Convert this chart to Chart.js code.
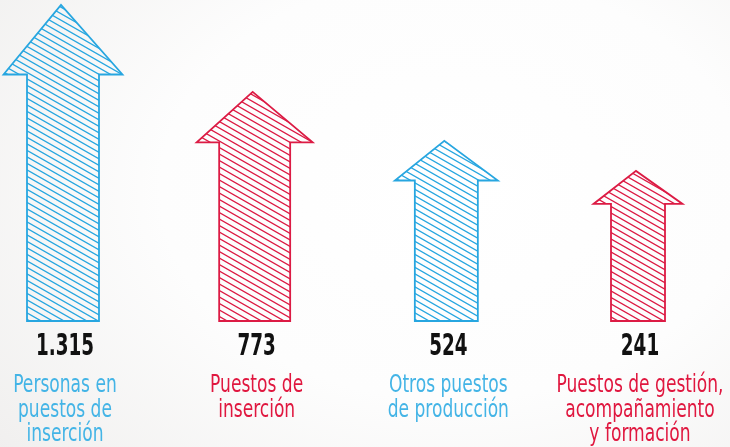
<!DOCTYPE html>
<html>
<head>
<meta charset="utf-8">
<script src="https://cdn.jsdelivr.net/npm/chart.js@4.4.1/dist/chart.umd.min.js"></script>
<style>
  html, body { margin: 0; padding: 0; }
  body {
    width: 730px; height: 447px; overflow: hidden;
    background: radial-gradient(ellipse 80% 95% at 62% 42%, #ffffff 0%, #fdfdfd 50%, #f0efee 100%);
  }
</style>
</head>
<body>
<canvas id="arrows" width="730" height="447"></canvas>
<script>
// etiquetas bajo cada flecha
const categories = [
  ["Personas en", "puestos de", "inserción"],
  ["Puestos de", "inserción"],
  ["Otros puestos", "de producción"],
  ["Puestos de gestión,", "acompañamiento", "y formación"]
];
// cifras que se muestran
const valueLabels = ["1.315", "773", "524", "241"];
// altura de cada flecha (la más alta = 100)
const arrowHeight = [100, 72.5, 57, 47.5];

// estilos
const BLUE = "#27a6e0";
const RED = "#dc1b44";
const arrowColors = [BLUE, RED, BLUE, RED];
const labelColors = ["#43b4e6", "#e0173f", "#43b4e6", "#e0173f"];
const shaftWidth = [72, 71, 63, 54];   // px
const headWidth = [119, 116, 103, 89]; // px
const COND = "'DejaVu Sans Condensed', 'Liberation Sans Narrow', sans-serif";

function tracePath(ctx, x, top, bottom, sw, hw, headH) {
  ctx.beginPath();
  ctx.moveTo(x - sw, bottom);
  ctx.lineTo(x - sw, top + headH);
  ctx.lineTo(x - hw, top + headH);
  ctx.lineTo(x - 2, top);
  ctx.lineTo(x + hw, top + headH);
  ctx.lineTo(x + sw, top + headH);
  ctx.lineTo(x + sw, bottom);
  ctx.closePath();
}

// texto estrechado horizontalmente
function squeezeText(ctx, text, x, y, sx) {
  ctx.save();
  ctx.translate(x, y);
  ctx.scale(sx, 1);
  ctx.fillText(text, 0, 0);
  ctx.restore();
}

// flechas rayadas sobre cada barra + cifras y etiquetas debajo
const arrowPlugin = {
  id: "arrows",
  afterDatasetsDraw(chart) {
    const ctx = chart.ctx;
    const meta = chart.getDatasetMeta(0);
    meta.data.forEach(function (bar, i) {
      const x = bar.x, top = bar.y, bottom = bar.base;
      const h = bottom - top;
      const headH = h * 0.22;
      const sw = shaftWidth[i] / 2, hw = headWidth[i] / 2;
      ctx.save();
      tracePath(ctx, x, top, bottom, sw, hw, headH);
      ctx.clip();
      ctx.strokeStyle = arrowColors[i];
      ctx.lineWidth = 1.3;
      const step = 6.5;
      const slope = 0.57;
      const span = 2 * hw + 6;
      ctx.beginPath();
      for (let yy = top - span * slope - step; yy < bottom + step; yy += step) {
        ctx.moveTo(x - hw - 3, yy);
        ctx.lineTo(x + hw + 3, yy + span * slope);
      }
      ctx.stroke();
      ctx.restore();

      ctx.save();
      tracePath(ctx, x, top, bottom, sw, hw, headH);
      ctx.strokeStyle = arrowColors[i];
      ctx.lineWidth = 1.8;
      ctx.stroke();
      ctx.restore();
    });
  },
  afterDraw(chart) {
    const ctx = chart.ctx;
    const meta = chart.getDatasetMeta(0);
    const base = chart.chartArea.bottom;
    ctx.save();
    ctx.textAlign = "center";
    ctx.textBaseline = "alphabetic";
    meta.data.forEach(function (bar, i) {
      ctx.font = "bold 30px " + COND;
      ctx.fillStyle = "#111111";
      squeezeText(ctx, valueLabels[i], bar.x + 2, base + 34, 0.68);
      ctx.font = "25px " + COND;
      ctx.fillStyle = labelColors[i];
      categories[i].forEach(function (line, k) {
        squeezeText(ctx, line, bar.x + 2, base + 71 + k * 24.5, 0.76);
      });
    });
    ctx.restore();
  }
};

new Chart(document.getElementById("arrows"), {
  type: "bar",
  data: {
    labels: categories,
    datasets: [{
      data: arrowHeight,
      backgroundColor: "rgba(0,0,0,0)",
      borderWidth: 0,
      barPercentage: 0.4,
      categoryPercentage: 1
    }]
  },
  options: {
    responsive: false,
    animation: false,
    layout: { padding: { left: 63, right: 92, top: 5, bottom: 126 } },
    plugins: {
      legend: { display: false },
      tooltip: { enabled: false }
    },
    scales: {
      x: { display: false, offset: false },
      y: { display: false, min: 0, max: 100 }
    }
  },
  plugins: [arrowPlugin]
});
</script>
</body>
</html>
